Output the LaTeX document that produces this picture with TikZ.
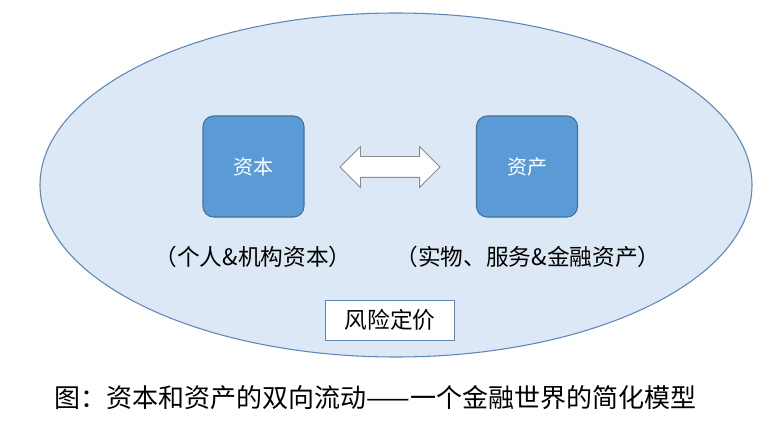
\documentclass[tikz,border=0pt]{standalone}
\usepackage{fontspec}
\setmainfont{Noto Sans CJK SC}
\usetikzlibrary{shapes.arrows}
\definecolor{ellfill}{HTML}{DCE8F5}
\definecolor{ellline}{HTML}{5F86B8}
\definecolor{boxfill}{HTML}{5B9BD5}
\definecolor{boxline}{HTML}{41719C}
\definecolor{arrline}{HTML}{8A8A8A}
\begin{document}
\begin{tikzpicture}[x=0.75pt,y=-0.75pt]
	\tikzstyle{mainbox}=[draw=boxline, fill=boxfill, rounded corners=8pt, minimum width=75.75pt, minimum height=75.75pt, text=white, font=\fontsize{15}{18}\selectfont, line width=0.8pt]
	\tikzstyle{note}=[font=\fontsize{17}{20}\selectfont]
	\useasboundingbox (0,0) rectangle (778,424);
	\fill[white] (0,0) rectangle (778,424);
	% % Shapes
	% world
	\draw[ellline, fill=ellfill, line width=0.8pt] (396,185) ellipse [x radius=356, y radius=172];
	% capital and assets
	\node[mainbox](capital) at (253.5,166.5) {资本};
	\node[mainbox](asset) at (527,166.5) {资产};
	% flow
	\node[draw=arrline, fill=white, double arrow, double arrow head extend=7.5pt, minimum height=75pt, inner sep=0pt, inner ysep=7.5pt, line width=0.6pt](flow) at (390,167) {};
	% annotations
	\node[note](capnote) at (253,257) {（个人\&机构资本）};
	\node[note](assetnote) at (528,257) {（实物、服务\&金融资产）};
	\node[draw=ellline, fill=white, note, minimum width=97pt, minimum height=30pt, line width=0.6pt](risk) at (390,320) {风险定价};
	% caption
	\node[font=\fontsize{19.5}{23}\selectfont, anchor=west](caption) at (50,398) {图：资本和资产的双向流动——一个金融世界的简化模型};
\end{tikzpicture}
\end{document}
